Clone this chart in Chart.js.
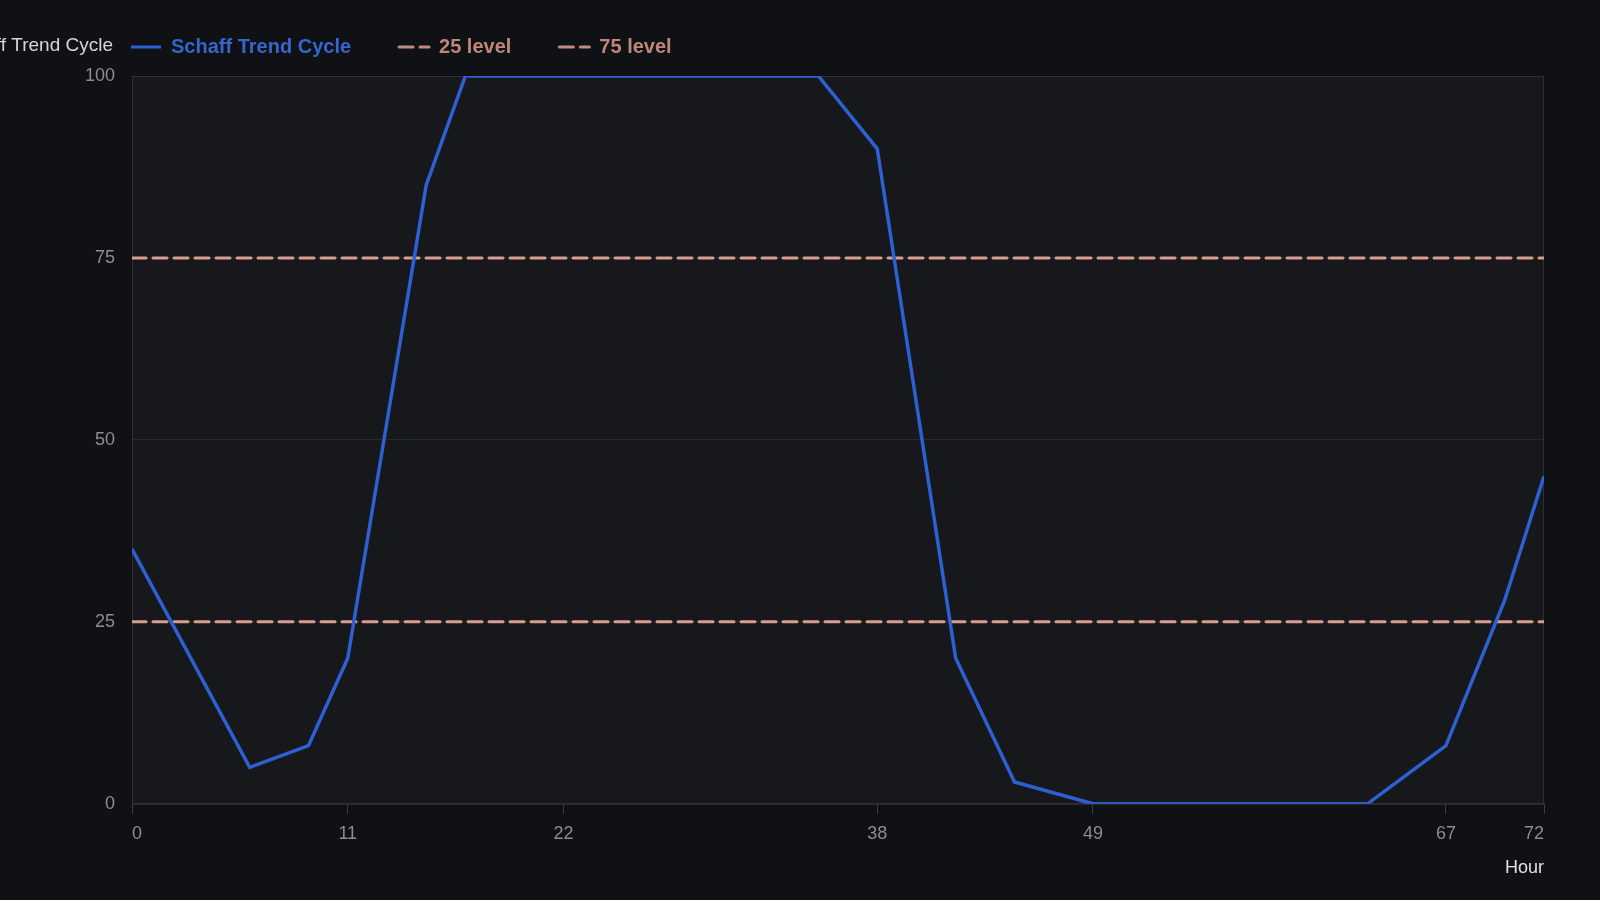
<!DOCTYPE html>
<html lang="en">
<head>
    <meta charset="UTF-8">
    <title>Schaff Trend Cycle</title>
    <style>
        html, body { margin: 0; padding: 0; background: #0f1114; }
        #wrap { width: 1600px; height: 900px; position: relative; }
    </style>
</head>
<body>
    <div id="wrap">
        <canvas id="stcChart"></canvas>
    </div>

    <script src="https://cdn.jsdelivr.net/npm/chart.js"></script>

    <script>
        // Valores
        const hours = [0, 6, 9, 11, 15, 17, 35, 38, 42, 45, 49, 63, 67, 70, 72];
        const stcValues = [35, 5, 8, 20, 85, 100, 100, 90, 20, 3, 0, 0, 8, 28, 45];
        const xTickValues = [0, 11, 22, 38, 49, 67, 72];
        const lowLevel = 25;
        const highLevel = 75;

        const FONT = "'Liberation Sans', Arial, Helvetica, sans-serif";
        const BLUE = '#2d60d3';
        const SALMON = '#d89d8c';

        // linha horizontal do nível, de ponta a ponta do eixo x
        function levelLine(v) {
            return [{ x: hours[0], y: v }, { x: hours[hours.length - 1], y: v }];
        }

        // fundo e moldura da área do gráfico
        const plotFrame = {
            id: 'plotFrame',
            beforeDraw(chart) {
                const { ctx, chartArea: a } = chart;
                ctx.save();
                ctx.fillStyle = '#16181c';
                ctx.fillRect(a.left, a.top, a.right - a.left, a.bottom - a.top);
                ctx.restore();
            },
            beforeDatasetsDraw(chart) {
                const { ctx, chartArea: a } = chart;
                ctx.save();
                ctx.strokeStyle = '#2e3137';
                ctx.lineWidth = 1;
                ctx.strokeRect(a.left + 0.5, a.top + 0.5, a.right - a.left - 1, a.bottom - a.top);
                ctx.restore();
            }
        };

        // título do eixo y desenhado na linha da legenda
        const yTitleInLegend = {
            id: 'yTitleInLegend',
            afterDraw(chart) {
                const box = chart.legend.legendHitBoxes[0];
                if (!box) return;
                const { ctx } = chart;
                ctx.save();
                ctx.font = '19px ' + FONT;
                ctx.fillStyle = '#d6d6d6';
                ctx.textAlign = 'right';
                ctx.textBaseline = 'middle';
                ctx.fillText(chart.options.scales.y.title.text, chart.chartArea.left - 19, box.top + box.height / 2 - 1);
                ctx.restore();
            }
        };

        // espaço extra entre legenda e gráfico
        const legendGap = {
            id: 'legendGap',
            beforeInit(chart) {
                const fit = chart.legend.fit;
                chart.legend.fit = function () {
                    fit.bind(chart.legend)();
                    this.height += 9;
                };
            }
        };

        new Chart(document.getElementById('stcChart'), {
            type: 'line',
            data: {
                datasets: [
                    {
                        label: 'Schaff Trend Cycle',
                        data: hours.map((h, i) => ({ x: h, y: stcValues[i] })),
                        borderColor: BLUE,
                        backgroundColor: BLUE,
                        borderWidth: 3.5,
                        pointRadius: 0,
                        pointStyle: 'line',
                        tension: 0,
                        fill: false
                    },
                    {
                        label: '25 level',
                        data: levelLine(lowLevel),
                        borderColor: SALMON,
                        backgroundColor: SALMON,
                        borderWidth: 3,
                        borderDash: [14, 7],
                        borderCapStyle: 'round',
                        pointRadius: 0,
                        pointStyle: 'line',
                        fill: false
                    },
                    {
                        label: '75 level',
                        data: levelLine(highLevel),
                        borderColor: SALMON,
                        backgroundColor: SALMON,
                        borderWidth: 3,
                        borderDash: [14, 7],
                        borderCapStyle: 'round',
                        pointRadius: 0,
                        pointStyle: 'line',
                        fill: false
                    }
                ]
            },
            options: {
                responsive: true,
                maintainAspectRatio: false,
                animation: false,
                layout: {
                    padding: { top: -11, left: 83, right: 56, bottom: 17 }
                },
                plugins: {
                    tooltip: { enabled: false },
                    legend: {
                        position: 'top',
                        align: 'start',
                        labels: {
                            usePointStyle: true,
                            pointStyleWidth: 30,
                            padding: 48,
                            font: { family: FONT, size: 20, weight: 'bold' },
                            generateLabels(chart) {
                                const items = Chart.defaults.plugins.legend.labels.generateLabels(chart);
                                items.forEach(item => {
                                    const ds = chart.data.datasets[item.datasetIndex];
                                    item.fontColor = item.datasetIndex === 0 ? '#3566cc' : '#bd8878';
                                    item.strokeStyle = item.datasetIndex === 0 ? ds.borderColor : '#c08c7c';
                                    item.lineWidth = 3;
                                    item.lineDash = ds.borderDash || [];
                                    item.lineCap = ds.borderCapStyle || 'butt';
                                });
                                return items;
                            }
                        }
                    }
                },
                scales: {
                    x: {
                        type: 'linear',
                        min: 0,
                        max: 72,
                        afterBuildTicks(axis) {
                            axis.ticks = xTickValues.map(v => ({ value: v }));
                        },
                        title: {
                            display: true,
                            text: 'Hour',
                            align: 'end',
                            color: '#e2e2e2',
                            font: { family: FONT, size: 18 },
                            padding: { top: 4, bottom: 4 }
                        },
                        grid: {
                            drawOnChartArea: false,
                            drawTicks: true,
                            tickLength: 10,
                            color: '#3a3d43'
                        },
                        border: { color: '#2e3137' },
                        ticks: {
                            align: 'inner',
                            padding: 9,
                            color: '#8a8d93',
                            font: { family: FONT, size: 18 },
                            maxRotation: 0,
                            autoSkip: false
                        }
                    },
                    y: {
                        min: 0,
                        max: 100,
                        title: { display: false, text: 'Schaff Trend Cycle' },
                        grid: {
                            color: '#272a2f',
                            drawTicks: true,
                            tickLength: 15,
                            tickColor: 'transparent'
                        },
                        border: { color: '#2e3137' },
                        ticks: {
                            stepSize: 25,
                            padding: 2,
                            color: '#8a8d93',
                            font: { family: FONT, size: 18 }
                        }
                    }
                }
            },
            plugins: [plotFrame, yTitleInLegend, legendGap]
        });
    </script>
</body>
</html>
